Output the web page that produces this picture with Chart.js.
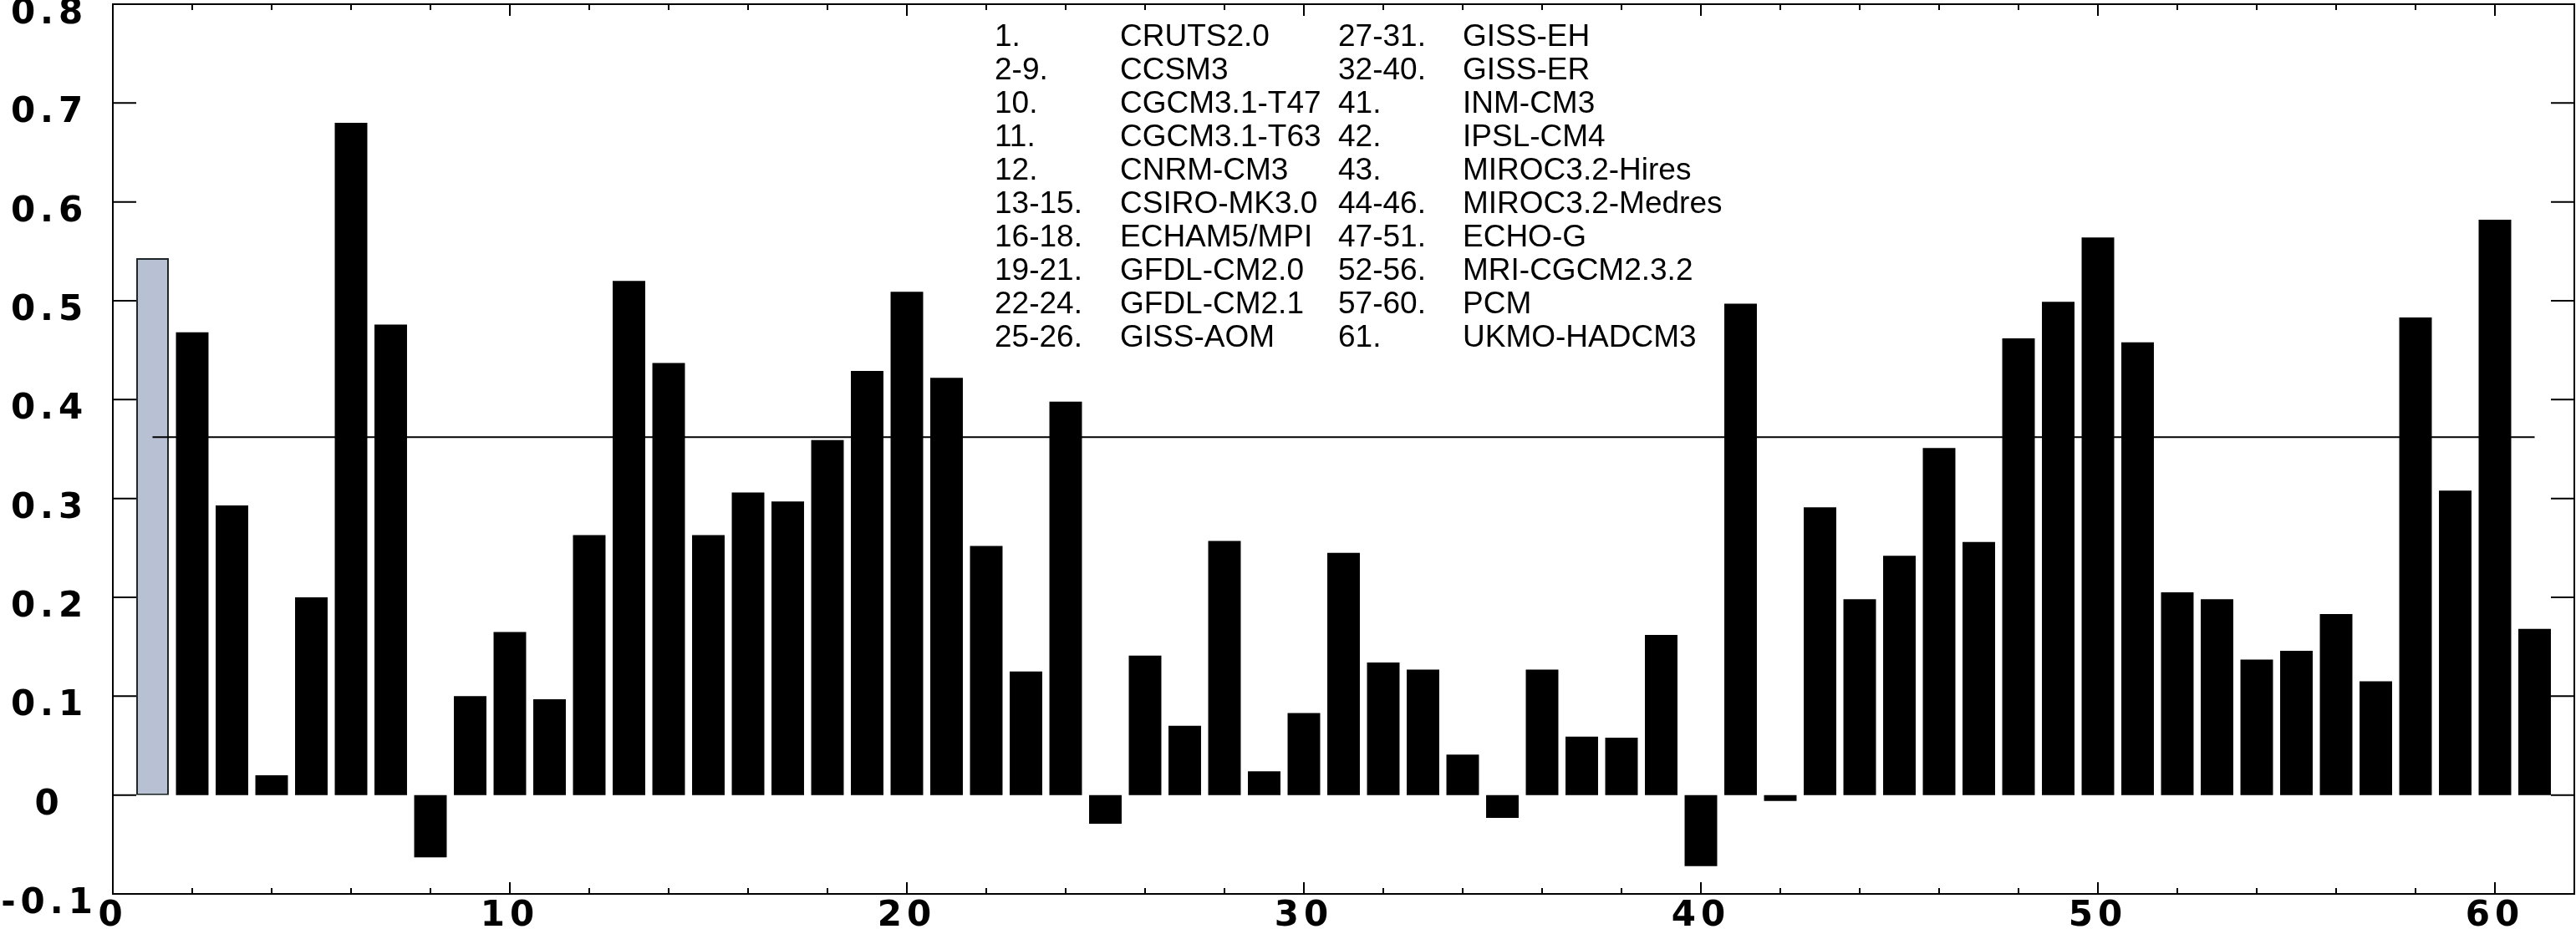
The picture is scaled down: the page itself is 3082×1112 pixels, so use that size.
<!DOCTYPE html>
<html>
<head>
<meta charset="utf-8">
<script src="https://cdn.jsdelivr.net/npm/chart.js@4.4.1/dist/chart.umd.min.js"></script>
<style>
  html, body { margin: 0; padding: 0; background: #fff; }
</style>
</head>
<body>
<canvas id="chart" width="3082" height="1112"></canvas>
<script>
// -------------------------
// DATA
// -------------------------
const modelIdx = [1, 2, 3, 4, 5, 6, 7, 8, 9, 10,
                  11, 12, 13, 14, 15, 16, 17, 18, 19, 20,
                  21, 22, 23, 24, 25, 26, 27, 28, 29, 30,
                  31, 32, 33, 34, 35, 36, 37, 38, 39, 40,
                  41, 42, 43, 44, 45, 46, 47, 48, 49, 50,
                  51, 52, 53, 54, 55, 56, 57, 58, 59, 60, 61];

const corrValues = [0.543, 0.468, 0.293, 0.020, 0.200, 0.680, 0.476, -0.063, 0.100, 0.165,
                    0.097, 0.263, 0.520, 0.437, 0.263, 0.306, 0.297, 0.359, 0.429, 0.509,
                    0.422, 0.252, 0.125, 0.398, -0.029, 0.141, 0.070, 0.257, 0.024, 0.083,
                    0.245, 0.134, 0.127, 0.041, -0.023, 0.127, 0.059, 0.058, 0.162, -0.072,
                    0.497, -0.006, 0.291, 0.198, 0.242, 0.351, 0.256, 0.462, 0.499, 0.564,
                    0.458, 0.205, 0.198, 0.137, 0.146, 0.183, 0.115, 0.483, 0.308, 0.582, 0.168];

// mean line (models 2-61), drawn from x=1 to x=61
const meanValue = 0.362;
const meanSpan = [1, 61];

// legend
const legNums1  = ["1.", "2-9.", "10.", "11.", "12.", "13-15.", "16-18.", "19-21.", "22-24.", "25-26."];
const legNames1 = ["CRUTS2.0", "CCSM3", "CGCM3.1-T47", "CGCM3.1-T63", "CNRM-CM3", "CSIRO-MK3.0",
                   "ECHAM5/MPI", "GFDL-CM2.0", "GFDL-CM2.1", "GISS-AOM"];
const legNums2  = ["27-31.", "32-40.", "41.", "42.", "43.", "44-46.", "47-51.", "52-56.", "57-60.", "61."];
const legNames2 = ["GISS-EH", "GISS-ER", "INM-CM3", "IPSL-CM4", "MIROC3.2-Hires", "MIROC3.2-Medres",
                   "ECHO-G", "MRI-CGCM2.3.2", "PCM", "UKMO-HADCM3"];

const tickFont = { family: "DejaVu Sans", weight: "bold", size: 42 };

// -------------------------
// FRAME, INWARD TICKS, LEGEND
// -------------------------
const framePlugin = {
    id: "frame",
    beforeUpdate(chart) { chart.ctx.letterSpacing = "6px"; },
    beforeDraw(chart) { chart.ctx.letterSpacing = "6px"; },
    afterDraw(chart) {
        const { ctx, chartArea: a, scales: { x, y } } = chart;
        ctx.save();
        ctx.letterSpacing = "0px";
        ctx.strokeStyle = "#000";
        ctx.lineWidth = 2;
        ctx.strokeRect(a.left, a.top, a.right - a.left, a.bottom - a.top);

        ctx.beginPath();
        y.ticks.forEach(t => {
            const py = y.getPixelForValue(t.value);
            ctx.moveTo(a.left, py);  ctx.lineTo(a.left + 28, py);
            ctx.moveTo(a.right, py); ctx.lineTo(a.right - 28, py);
        });
        x.ticks.forEach(t => {
            const px = x.getPixelForValue(t.value);
            const len = t.value % 10 === 0 ? 14 : 7;
            ctx.moveTo(px, a.bottom); ctx.lineTo(px, a.bottom - len);
            ctx.moveTo(px, a.top);    ctx.lineTo(px, a.top + len);
        });
        ctx.stroke();

        ctx.fillStyle = "#000";
        ctx.font = '37px "Liberation Sans", Arial, sans-serif';
        ctx.textBaseline = "alphabetic";
        ctx.textAlign = "left";
        for (let i = 0; i < legNums1.length; i++) {
            const by = 55 + i * 40;
            ctx.fillText(legNums1[i], 1190, by);
            ctx.fillText(legNames1[i], 1340, by);
            ctx.fillText(legNums2[i], 1601, by);
            ctx.fillText(legNames2[i], 1750, by);
        }
        ctx.restore();
    }
};

// -------------------------
// CHART
// -------------------------
const barPoints = modelIdx.map((m, i) => ({ x: m, y: corrValues[i] }));

new Chart(document.getElementById("chart").getContext("2d"), {
    type: "bar",
    data: {
        datasets: [{
            type: "line",
            data: meanSpan.map(v => ({ x: v, y: meanValue })),
            borderColor: "#000",
            borderWidth: 2,
            pointRadius: 0,
            fill: false,
            order: 0
        }, {
            type: "bar",
            data: barPoints,
            backgroundColor: modelIdx.map(m => m === 1 ? "#b8c1d3" : "#000"),
            borderColor: modelIdx.map(m => m === 1 ? "#1c2626" : "#000"),
            borderWidth: modelIdx.map(m => m === 1 ? 2 : 0),
            borderSkipped: false,
            barPercentage: 0.82,
            categoryPercentage: 1,
            order: 1
        }]
    },
    options: {
        responsive: false,
        animation: false,
        devicePixelRatio: 1,
        layout: { padding: { top: 5, right: 2, left: 0, bottom: 0 } },
        plugins: { legend: { display: false }, tooltip: { enabled: false } },
        scales: {
            x: {
                type: "linear",
                min: 0,
                max: 62,
                offset: false,
                grid: { display: false, drawTicks: false, offset: false },
                border: { color: "#000", width: 2 },
                ticks: {
                    stepSize: 2,
                    autoSkip: false,
                    maxRotation: 0,
                    padding: 2,
                    color: "#000",
                    font: tickFont,
                    callback: v => v % 10 === 0 ? String(v) : ""
                },
                afterFit(s) { s.height = 42; s.paddingLeft = 0; s.paddingRight = 0; }
            },
            y: {
                min: -0.1,
                max: 0.8,
                grid: { display: false, drawTicks: false },
                border: { color: "#000", width: 2 },
                ticks: {
                    stepSize: 0.1,
                    crossAlign: "center",
                    padding: 18,
                    labelOffset: 12,
                    color: "#000",
                    font: tickFont
                },
                afterFit(s) { s.width = 135; s.paddingTop = 0; s.paddingBottom = 0; }
            }
        }
    },
    plugins: [framePlugin]
});
</script>
</body>
</html>
